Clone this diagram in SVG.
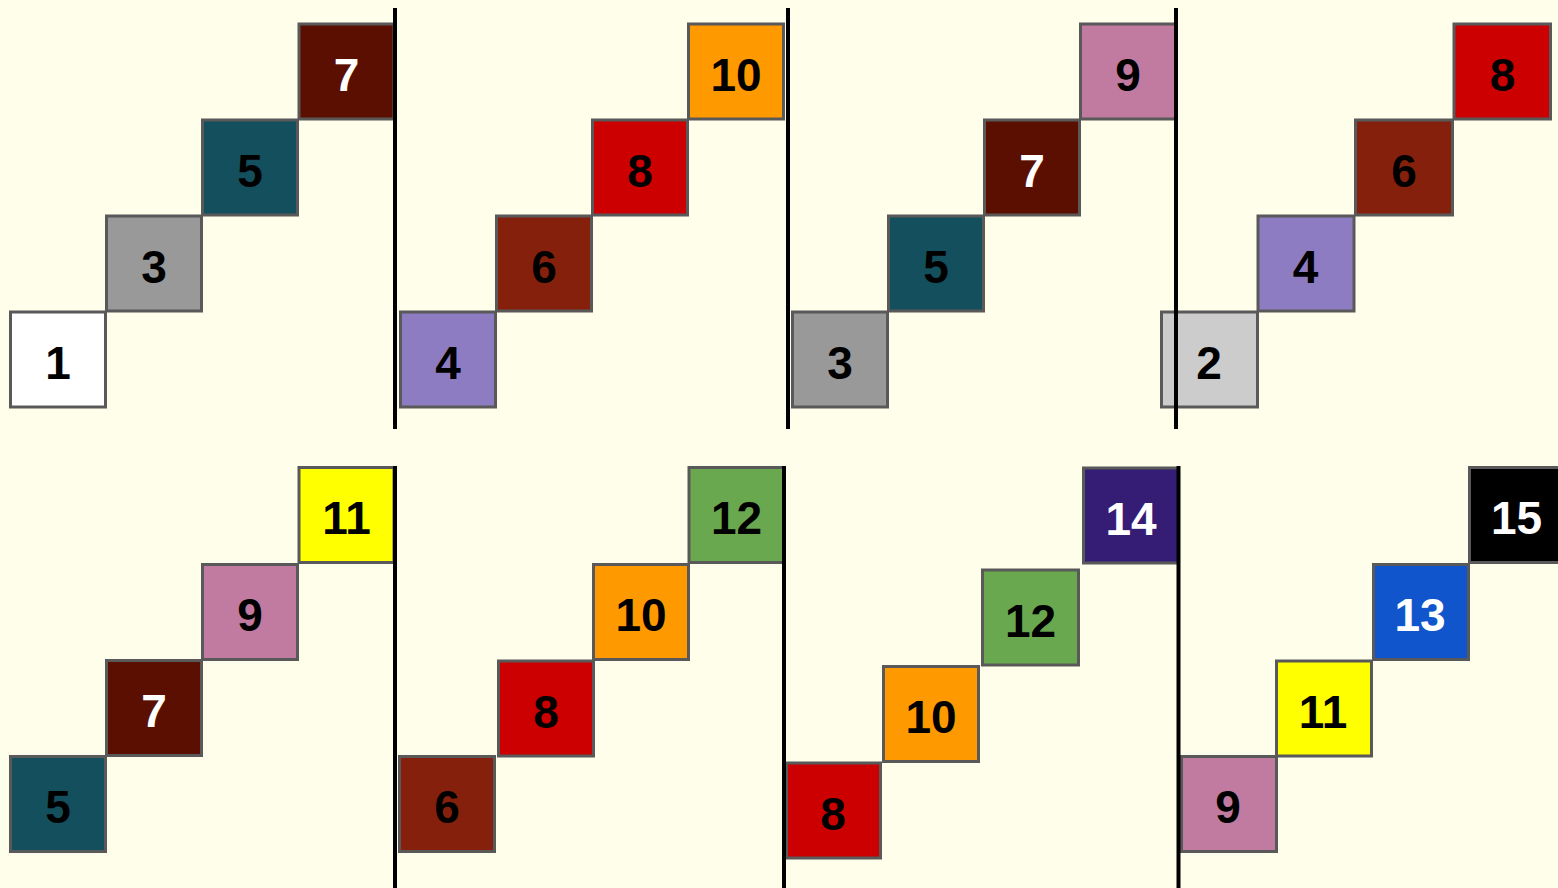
<svg xmlns="http://www.w3.org/2000/svg" width="1558" height="888" viewBox="0 0 1558 888">
<style>
  .bg { fill: #fffeea; }
  .box rect { stroke: #595959; stroke-width: 3; }
  .box text { font-family: "Liberation Sans", Arial, sans-serif; font-weight: bold; font-size: 46px; text-anchor: middle; fill: #000; }
  .box text.w { fill: #fff; }
  .sep { stroke: #000; stroke-width: 4; fill: none; }
  .c1 { fill: #ffffff; } .c2 { fill: #cccccc; } .c3 { fill: #999999; } .c4 { fill: #8e7cc3; }
  .c5 { fill: #134f5c; } .c6 { fill: #85200c; } .c7 { fill: #5b0f00; } .c8 { fill: #cc0000; }
  .c9 { fill: #c27ba0; } .c10 { fill: #ff9900; } .c11 { fill: #ffff00; } .c12 { fill: #6aa84f; }
  .c13 { fill: #1155cc; } .c14 { fill: #351c75; } .c15 { fill: #000000; }
</style>
<rect class="bg" x="0" y="0" width="1558" height="888"/>

<!-- Top row, panel 1 -->
<g id="t1-1" class="box"><rect class="c1" x="10.5" y="312" width="95" height="95"/><text x="58" y="378.5">1</text></g>
<g id="t1-3" class="box"><rect class="c3" x="106.5" y="216" width="95" height="95"/><text x="154" y="282.5">3</text></g>
<g id="t1-5" class="box"><rect class="c5" x="202.5" y="120" width="95" height="95"/><text x="250" y="186.5">5</text></g>
<g id="t1-7" class="box"><rect class="c7" x="299" y="24" width="95" height="95"/><text class="w" x="346.5" y="90.5">7</text></g>

<!-- Top row, panel 2 -->
<g id="t2-4" class="box"><rect class="c4" x="400.5" y="312" width="95" height="95"/><text x="448" y="378.5">4</text></g>
<g id="t2-6" class="box"><rect class="c6" x="496.5" y="216" width="95" height="95"/><text x="544" y="282.5">6</text></g>
<g id="t2-8" class="box"><rect class="c8" x="592.5" y="120" width="95" height="95"/><text x="640" y="186.5">8</text></g>
<g id="t2-10" class="box"><rect class="c10" x="688.5" y="24" width="95" height="95"/><text x="736" y="90.5">10</text></g>

<!-- Top row, panel 3 -->
<g id="t3-3" class="box"><rect class="c3" x="792.5" y="312" width="95" height="95"/><text x="840" y="378.5">3</text></g>
<g id="t3-5" class="box"><rect class="c5" x="888.5" y="216" width="95" height="95"/><text x="936" y="282.5">5</text></g>
<g id="t3-7" class="box"><rect class="c7" x="984.5" y="120" width="95" height="95"/><text class="w" x="1032" y="186.5">7</text></g>
<g id="t3-9" class="box"><rect class="c9" x="1080.5" y="24" width="95" height="95"/><text x="1128" y="90.5">9</text></g>

<!-- Top row, panel 4 -->
<g id="t4-2" class="box"><rect class="c2" x="1161.5" y="312" width="96" height="95"/><text x="1209" y="378.5">2</text></g>
<g id="t4-4" class="box"><rect class="c4" x="1258" y="216" width="96" height="95"/><text x="1305.5" y="282.5">4</text></g>
<g id="t4-6" class="box"><rect class="c6" x="1355.5" y="120" width="97" height="95"/><text x="1404" y="186.5">6</text></g>
<g id="t4-8" class="box"><rect class="c8" x="1454" y="24" width="96.5" height="95"/><text x="1502.5" y="90.5">8</text></g>

<!-- Bottom row, panel 1 -->
<g id="b1-5" class="box"><rect class="c5" x="10.5" y="756.5" width="95" height="95"/><text x="58" y="823">5</text></g>
<g id="b1-7" class="box"><rect class="c7" x="106.5" y="660.5" width="95" height="95"/><text class="w" x="154" y="727">7</text></g>
<g id="b1-9" class="box"><rect class="c9" x="202.5" y="564.5" width="95" height="95"/><text x="250" y="631">9</text></g>
<g id="b1-11" class="box"><rect class="c11" x="299" y="467.5" width="95" height="95"/><text x="346.5" y="534">11</text></g>

<!-- Bottom row, panel 2 -->
<g id="b2-6" class="box"><rect class="c6" x="399.5" y="756.5" width="95" height="95"/><text x="447" y="823">6</text></g>
<g id="b2-8" class="box"><rect class="c8" x="498.5" y="661" width="95" height="95"/><text x="546" y="727.5">8</text></g>
<g id="b2-10" class="box"><rect class="c10" x="593.5" y="564.5" width="95" height="95"/><text x="641" y="631">10</text></g>
<g id="b2-12" class="box"><rect class="c12" x="689" y="467.5" width="95" height="95"/><text x="736.5" y="534">12</text></g>

<!-- Bottom row, panel 3 -->
<g id="b3-8" class="box"><rect class="c8" x="786.5" y="763" width="94" height="95"/><text x="833" y="829.5">8</text></g>
<g id="b3-10" class="box"><rect class="c10" x="883.5" y="666.5" width="95" height="95"/><text x="931" y="733">10</text></g>
<g id="b3-12" class="box"><rect class="c12" x="982.5" y="570" width="96" height="95"/><text x="1030.5" y="636.5">12</text></g>
<g id="b3-14" class="box"><rect class="c14" x="1083.5" y="468" width="95" height="95"/><text class="w" x="1131" y="534.5">14</text></g>

<!-- Bottom row, panel 4 -->
<g id="b4-9" class="box"><rect class="c9" x="1181.5" y="756.5" width="95" height="95"/><text x="1228" y="823">9</text></g>
<g id="b4-11" class="box"><rect class="c11" x="1276.5" y="661" width="95" height="95"/><text x="1323" y="727.5">11</text></g>
<g id="b4-13" class="box"><rect class="c13" x="1373.5" y="564.5" width="95" height="95"/><text class="w" x="1420" y="631">13</text></g>
<g id="b4-15" class="box"><rect class="c15" x="1469.5" y="467.5" width="95" height="95"/><text class="w" x="1516.5" y="534">15</text></g>

<!-- Separator lines -->
<g id="separators">
  <line class="sep" x1="395" y1="8" x2="395" y2="429"/>
  <line class="sep" x1="788" y1="8" x2="788" y2="429"/>
  <line class="sep" x1="1176" y1="8" x2="1176" y2="429"/>
  <line class="sep" x1="395" y1="466" x2="395" y2="888"/>
  <line class="sep" x1="784" y1="466" x2="784" y2="888"/>
  <line class="sep" x1="1178.5" y1="466" x2="1178.5" y2="888"/>
</g>
</svg>
